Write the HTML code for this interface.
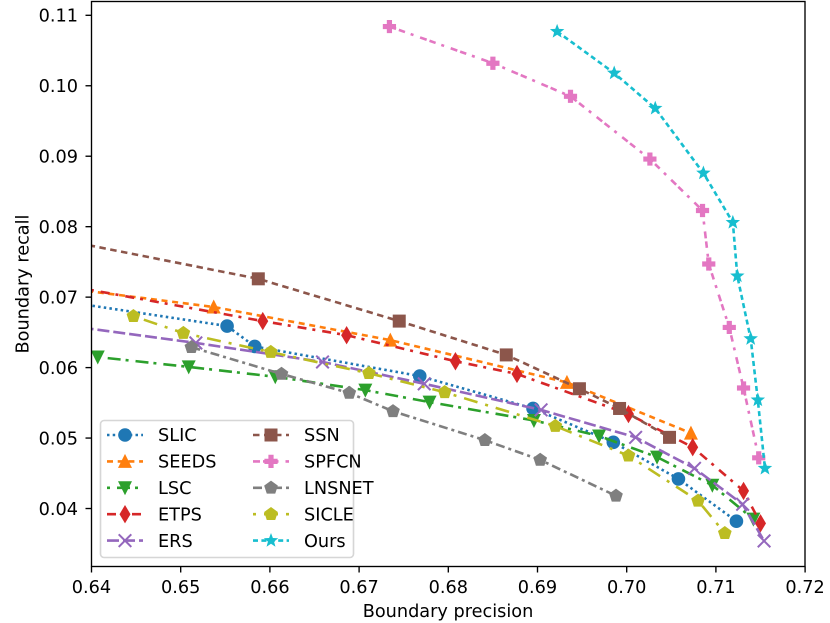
<!DOCTYPE html>
<html>
<head>
<meta charset="utf-8">
<title>Boundary precision vs. recall</title>
<style>
html,body{margin:0;padding:0;background:#fff;width:830px;height:623px;overflow:hidden}
svg{display:block}
text{font-family:"DejaVu Sans","Liberation Sans",sans-serif;font-size:17.7px;fill:#000}
</style>
</head>
<body>
<svg id="chart" width="830" height="623" viewBox="0 0 830 623" xmlns="http://www.w3.org/2000/svg">
<defs><clipPath id="plot-clip"><rect x="91.5" y="1.5" width="713.5" height="565"></rect></clipPath></defs>
</svg>
<script>
const xTicks = [0.64, 0.65, 0.66, 0.67, 0.68, 0.69, 0.70, 0.71, 0.72];
const xTickLabels = ['0.64', '0.65', '0.66', '0.67', '0.68', '0.69', '0.70', '0.71', '0.72'];
const yTicks = [0.04, 0.05, 0.06, 0.07, 0.08, 0.09, 0.10, 0.11];
const yTickLabels = ['0.04', '0.05', '0.06', '0.07', '0.08', '0.09', '0.10', '0.11'];

const slicX = [0.6300, 0.6552, 0.6583, 0.6768, 0.6895, 0.6985, 0.7058, 0.7123];
const slicY = [0.0707, 0.0659, 0.0630, 0.0588, 0.0542, 0.0494, 0.0442, 0.0382];
const seedsX = [0.6300, 0.6537, 0.6735, 0.6933, 0.7072];
const seedsY = [0.0724, 0.0686, 0.0639, 0.0579, 0.0507];
const lscX = [0.6407, 0.6509, 0.6606, 0.6707, 0.6779, 0.6896, 0.6969, 0.7034, 0.7096, 0.7142];
const lscY = [0.0615, 0.0601, 0.0587, 0.0568, 0.0551, 0.0525, 0.0503, 0.0473, 0.0433, 0.0385];
const etpsX = [0.6300, 0.6592, 0.6686, 0.6808, 0.6877, 0.7002, 0.7074, 0.7131, 0.7150];
const etpsY = [0.0733, 0.0666, 0.0646, 0.0609, 0.0591, 0.0534, 0.0487, 0.0425, 0.0379];
const ersX = [0.6300, 0.6517, 0.6659, 0.6773, 0.6904, 0.7010, 0.7076, 0.7130, 0.7154];
const ersY = [0.0672, 0.0635, 0.0608, 0.0577, 0.0540, 0.0501, 0.0457, 0.0406, 0.0354];
const ssnX = [0.6300, 0.6587, 0.6745, 0.6865, 0.6947, 0.6992, 0.7048];
const ssnY = [0.0798, 0.0726, 0.0666, 0.0618, 0.0570, 0.0542, 0.0501];
const spfcnX = [0.6734, 0.6850, 0.6937, 0.7026, 0.7085, 0.7092, 0.7115, 0.7131, 0.7148];
const spfcnY = [0.1084, 0.1032, 0.0985, 0.0896, 0.0823, 0.0747, 0.0657, 0.0571, 0.0472];
const lnsnetX = [0.6512, 0.6613, 0.6689, 0.6738, 0.6841, 0.6903, 0.6988];
const lnsnetY = [0.0629, 0.0591, 0.0564, 0.0538, 0.0497, 0.0469, 0.0418];
const sicleX = [0.6447, 0.6503, 0.6601, 0.6711, 0.6796, 0.6920, 0.7002, 0.7080, 0.7110];
const sicleY = [0.0673, 0.0649, 0.0622, 0.0592, 0.0565, 0.0517, 0.0475, 0.0411, 0.0365];
const oursX = [0.6922, 0.6986, 0.7032, 0.7086, 0.7119, 0.7124, 0.7139, 0.7147, 0.7155];
const oursY = [0.1077, 0.1018, 0.0968, 0.0876, 0.0806, 0.0730, 0.0641, 0.0554, 0.0457];

const seriesList = [
  {name:'SLIC',   slug:'slic',   xs:slicX,   ys:slicY,   color:'#1f77b4', dash:'2.5 3.2',       marker:'circle'},
  {name:'SEEDS',  slug:'seeds',  xs:seedsX,  ys:seedsY,  color:'#ff7f0e', dash:'6 4.7',         marker:'triangleUp'},
  {name:'LSC',    slug:'lsc',    xs:lscX,    ys:lscY,    color:'#2ca02c', dash:'3 7 13 5',      marker:'triangleDown'},
  {name:'ETPS',   slug:'etps',   xs:etpsX,   ys:etpsY,   color:'#d62728', dash:'9 6 3 7',       marker:'diamond'},
  {name:'ERS',    slug:'ers',    xs:ersX,    ys:ersY,    color:'#9467bd', dash:'12 4',          marker:'cross'},
  {name:'SSN',    slug:'ssn',    xs:ssnX,    ys:ssnY,    color:'#8c564b', dash:'6.5 4.5',       marker:'square'},
  {name:'SPFCN',  slug:'spfcn',  xs:spfcnX,  ys:spfcnY,  color:'#e377c2', dash:'7 3 6.5 6 3 7', marker:'plus'},
  {name:'LNSNET', slug:'lnsnet', xs:lnsnetX, ys:lnsnetY, color:'#7f7f7f', dash:'9 4 3 4',       marker:'pentagon'},
  {name:'SICLE',  slug:'sicle',  xs:sicleX,  ys:sicleY,  color:'#bcbd22', dash:'3 8 14 8',      marker:'pentagon'},
  {name:'Ours',   slug:'ours',   xs:oursX,   ys:oursY,   color:'#17becf', dash:'5 3.4',         marker:'star'}
];

const NS = 'http://www.w3.org/2000/svg';
const svg = document.getElementById('chart');
const xScale = v => 91.5 + (v - 0.64) * 8920;
const yScale = v => 15.3 + (0.11 - v) * 7046;

function make(tag, attrs, parent) {
  const el = document.createElementNS(NS, tag);
  for (const k in attrs) el.setAttribute(k, attrs[k]);
  parent.appendChild(el);
  return el;
}

function polygonPoints(n, outer, inner, cx, cy) {
  const pts = [];
  const total = inner ? n * 2 : n;
  for (let i = 0; i < total; i++) {
    const r = inner && i % 2 ? inner : outer;
    const a = -Math.PI / 2 + i * 2 * Math.PI / total;
    pts.push((cx + r * Math.cos(a)).toFixed(2) + ',' + (cy + r * Math.sin(a)).toFixed(2));
  }
  return pts.join(' ');
}

function drawMarker(kind, cx, cy, color, parent) {
  let el;
  if (kind === 'circle') {
    el = make('circle', {cx: cx, cy: cy, r: 6.8, fill: color}, parent);
  } else if (kind === 'triangleUp') {
    el = make('polygon', {points: [cx, cy - 7.5, cx - 7, cy + 6.5, cx + 7, cy + 6.5].join(' '), fill: color}, parent);
  } else if (kind === 'triangleDown') {
    el = make('polygon', {points: [cx, cy + 7.5, cx - 7, cy - 6.5, cx + 7, cy - 6.5].join(' '), fill: color}, parent);
  } else if (kind === 'diamond') {
    el = make('polygon', {points: [cx, cy - 9.2, cx + 5.5, cy, cx, cy + 9.2, cx - 5.5, cy].join(' '), fill: color}, parent);
  } else if (kind === 'cross') {
    el = make('path', {d: 'M' + (cx - 6.3) + ' ' + (cy - 6.3) + 'L' + (cx + 6.3) + ' ' + (cy + 6.3) + 'M' + (cx - 6.3) + ' ' + (cy + 6.3) + 'L' + (cx + 6.3) + ' ' + (cy - 6.3), stroke: color, 'stroke-width': 2, fill: 'none'}, parent);
  } else if (kind === 'square') {
    el = make('rect', {x: cx - 6.5, y: cy - 6.5, width: 13, height: 13, fill: color}, parent);
  } else if (kind === 'plus') {
    const a = 6.6, b = 2.6;
    el = make('polygon', {points: [cx - b, cy - a, cx + b, cy - a, cx + b, cy - b, cx + a, cy - b, cx + a, cy + b, cx + b, cy + b, cx + b, cy + a, cx - b, cy + a, cx - b, cy + b, cx - a, cy + b, cx - a, cy - b, cx - b, cy - b].join(' '), fill: color}, parent);
  } else if (kind === 'pentagon') {
    el = make('polygon', {points: polygonPoints(5, 7.2, 0, cx, cy), fill: color}, parent);
  } else {
    el = make('polygon', {points: polygonPoints(5, 7.6, 3.2, cx, cy), fill: color}, parent);
  }
  return el;
}

const plotBg = make('rect', {x: 91.5, y: 1.5, width: 713.5, height: 565, fill: '#fff'}, svg);



const plot = make('g', {'clip-path': 'url(#plot-clip)'}, svg);



seriesList.forEach(s => {
  const g = make('g', {}, plot);
  
  
  const pts = s.xs.map((x, i) => xScale(x).toFixed(2) + ',' + yScale(s.ys[i]).toFixed(2)).join(' ');
  const line = make('polyline', {points: pts, fill: 'none', stroke: s.color, 'stroke-width': 2.6, 'stroke-dasharray': s.dash}, g);
  
  
  s.xs.forEach((x, i) => {
    const m = drawMarker(s.marker, xScale(x), yScale(s.ys[i]), s.color, g);
    
    
  });
});

const axes = make('g', {}, svg);



const frame = make('rect', {x: 91.5, y: 1.5, width: 713.5, height: 565, fill: 'none', stroke: '#000', 'stroke-width': 1.35}, axes);



xTicks.forEach((v, i) => {
  const px = xScale(v);
  const t = make('line', {x1: px, x2: px, y1: 566.5, y2: 572.5, stroke: '#000', 'stroke-width': 1.35}, axes);
  
  
  const l = make('text', {x: px, y: 593, 'text-anchor': 'middle'}, axes);
  l.textContent = xTickLabels[i];
  
  
});

yTicks.forEach((v, i) => {
  const py = yScale(v);
  const t = make('line', {x1: 85.5, x2: 91.5, y1: py, y2: py, stroke: '#000', 'stroke-width': 1.35}, axes);
  
  
  const l = make('text', {x: 78, y: py + 6.4, 'text-anchor': 'end'}, axes);
  l.textContent = yTickLabels[i];
  
  
});

const xTitle = make('text', {x: 448, y: 617, 'text-anchor': 'middle'}, axes);
xTitle.textContent = 'Boundary precision';



const yTitle = make('text', {x: 0, y: 0, 'text-anchor': 'middle', transform: 'translate(28.5 284) rotate(-90)'}, axes);
yTitle.textContent = 'Boundary recall';



const legend = make('g', {}, svg);


const legendBox = make('rect', {x: 100.5, y: 420.5, width: 253, height: 137, rx: 3.5, ry: 3.5, fill: 'rgba(255,255,255,0.8)', stroke: '#d6d6d6', 'stroke-width': 1.6}, legend);



seriesList.forEach((s, i) => {
  const col = i < 5 ? 0 : 1;
  const row = i % 5;
  const hx = col === 0 ? 107 : 253;
  const ly = 435 + row * 26.4;
  const g = make('g', {}, legend);
  
  
  const h = make('line', {x1: hx, x2: hx + 36, y1: ly, y2: ly, stroke: s.color, 'stroke-width': 2.6, 'stroke-dasharray': s.dash}, g);
  
  
  const m = drawMarker(s.marker, hx + 18, ly, s.color, g);
  
  
  const t = make('text', {x: hx + 51, y: ly + 6.2}, g);
  t.textContent = s.name;
  
  
});
</script>
</body>
</html>
